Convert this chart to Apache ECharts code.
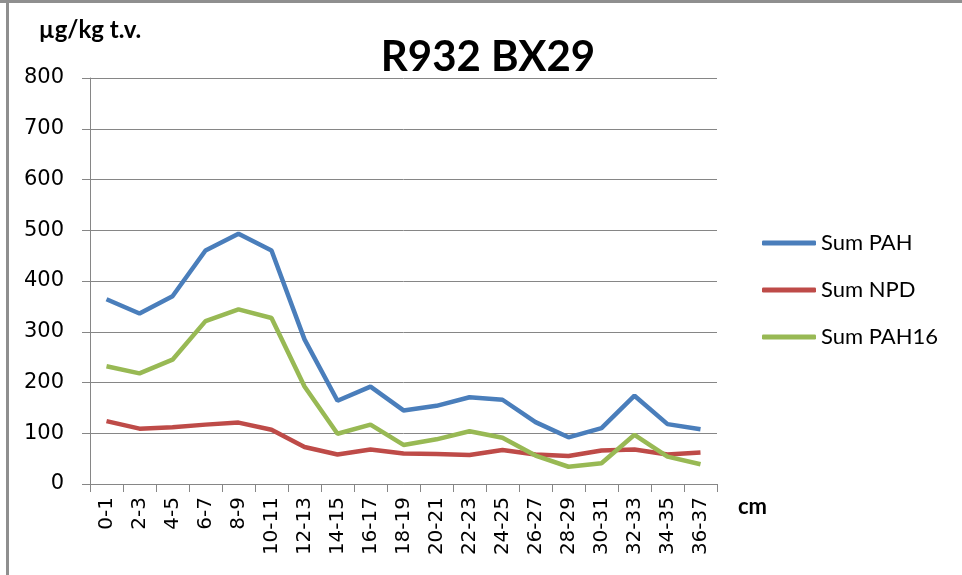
<!DOCTYPE html>
<html>
<head>
<meta charset="utf-8">
<script src="https://cdn.jsdelivr.net/npm/echarts@6/dist/echarts.min.js"></script>
<style>
  html, body { margin: 0; padding: 0; background: #fff; }
  #main { width: 962px; height: 575px; }
</style>
</head>
<body>
<div id="main"></div>
<script>
// dybder (cm)
var depths = ['0-1', '2-3', '4-5', '6-7', '8-9', '10-11', '12-13', '14-15', '16-17', '18-19',
    '20-21', '22-23', '24-25', '26-27', '28-29', '30-31', '32-33', '34-35', '36-37'];

var sumPAH = [364, 336, 370, 460, 493, 460, 285, 164, 192, 145, 154, 171, 166, 122, 92, 110, 174, 118, 108];
var sumNPD = [124, 109, 112, 117, 121, 107, 73, 58, 68, 60, 59, 57, 67, 58, 55, 66, 68, 58, 62];
var sumPAH16 = [232, 218, 245, 321, 344, 327, 192, 99, 117, 77, 88, 104, 91, 56, 34, 41, 97, 54, 39];

var yTicks = [0, 100, 200, 300, 400, 500, 600, 700, 800];

var gridColor = '#868686';

var myChart = echarts.init(document.getElementById('main'));

var option = {
    backgroundColor: '#fff',
    animation: false,
    title: {
        text: 'R932 BX29',
        left: 483,
        top: 31,
        textAlign: 'center',
        textStyle: { fontFamily: 'Lato', fontWeight: 'bold', fontSize: 42, color: '#000' }
    },
    legend: {
        orient: 'vertical',
        left: 757,
        top: 227,
        itemGap: 25,
        itemWidth: 54,
        itemHeight: 5,
        icon: 'roundRect',
        textStyle: { fontFamily: 'Lato', fontSize: 22, color: '#000' },
        data: ['Sum PAH', 'Sum NPD', 'Sum PAH16']
    },
    grid: { left: 90, right: 245, top: 78, bottom: 91, containLabel: false },
    xAxis: {
        type: 'category',
        data: depths,
        boundaryGap: true,
        name: 'cm',
        nameLocation: 'end',
        nameGap: 21,
        nameTextStyle: {
            fontFamily: 'Lato', fontWeight: 'bold', fontSize: 22, color: '#000',
            verticalAlign: 'top', lineHeight: 46
        },
        axisLine: { lineStyle: { color: gridColor, width: 1 } },
        axisTick: { show: true, interval: 0, length: 8, lineStyle: { color: gridColor } },
        axisLabel: {
            interval: 0, rotate: 90, margin: 13,
            fontFamily: 'DejaVu Sans', fontSize: 20, color: '#000'
        },
        splitLine: { show: false }
    },
    yAxis: {
        type: 'value',
        min: yTicks[0],
        max: yTicks[yTicks.length - 1],
        interval: 100,
        name: 'µg/kg t.v.',
        nameLocation: 'end',
        nameGap: 36,
        nameTextStyle: {
            fontFamily: 'Lato', fontWeight: 'bold', fontSize: 24, color: '#000', align: 'center'
        },
        axisLine: { show: true, lineStyle: { color: gridColor, width: 1 } },
        axisTick: { show: true, length: 8, lineStyle: { color: gridColor } },
        axisLabel: { margin: 26, fontFamily: 'DejaVu Sans', fontSize: 21, color: '#000' },
        splitLine: { show: true, lineStyle: { color: gridColor, width: 1 } }
    },
    series: [
        {
            name: 'Sum PAH', type: 'line', data: sumPAH, symbol: 'none',
            itemStyle: { color: '#4a7ebb' },
            lineStyle: { color: '#4a7ebb', width: 4.5 }
        },
        {
            name: 'Sum NPD', type: 'line', data: sumNPD, symbol: 'none',
            itemStyle: { color: '#be4b48' },
            lineStyle: { color: '#be4b48', width: 4.5 }
        },
        {
            name: 'Sum PAH16', type: 'line', data: sumPAH16, symbol: 'none',
            itemStyle: { color: '#98b954' },
            lineStyle: { color: '#98b954', width: 4.5 }
        }
    ],
    // ramme rundt diagrammet (topp og venstre)
    graphic: [
        { type: 'rect', shape: { x: 0, y: 0, width: 962, height: 3 }, style: { fill: '#8f8f8f' }, silent: true },
        { type: 'rect', shape: { x: 6, y: 0, width: 3, height: 575 }, style: { fill: '#8f8f8f' }, silent: true }
    ]
};

myChart.setOption(option);
</script>
</body>
</html>
